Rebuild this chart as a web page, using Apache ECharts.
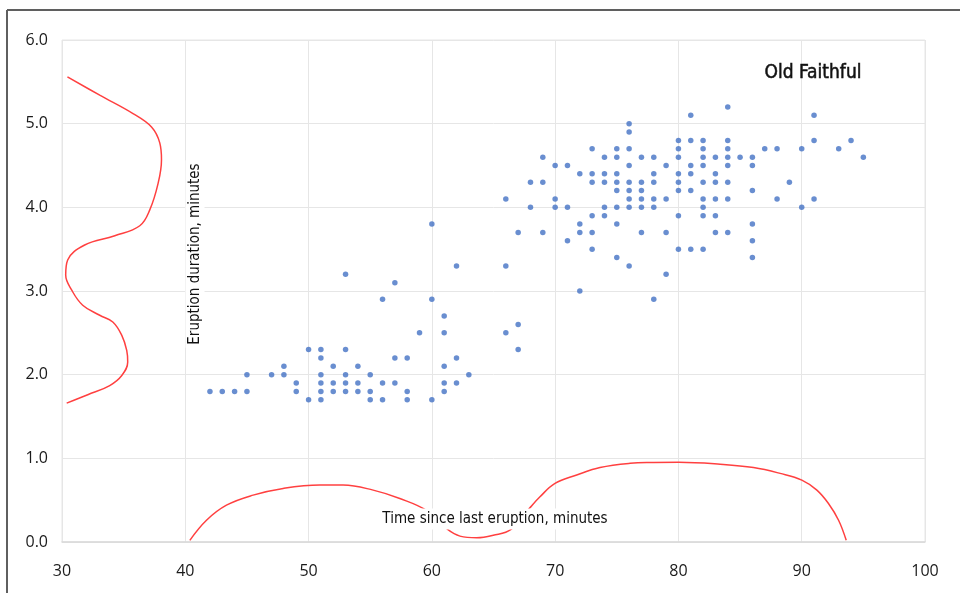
<!DOCTYPE html>
<html>
<head>
<meta charset="utf-8">
<title>Old Faithful</title>
<script src="https://cdn.jsdelivr.net/npm/echarts@6/dist/echarts.min.js"></script>
<style>
  html, body { margin: 0; padding: 0; background: #ffffff; }
  #chart { width: 960px; height: 593px; }
</style>
</head>
<body>
<div id="chart"></div>
<script>
// Eruption durations (minutes), one level per row of dots
const durationLevels = [
  1.7, 1.8, 1.9, 2.0, 2.1, 2.2, 2.3, 2.5, 2.6, 2.7, 2.9, 3.0, 3.1, 3.2, 3.3,
  3.4, 3.5, 3.6, 3.7, 3.8, 3.9, 4.0, 4.1, 4.2, 4.3, 4.4, 4.5, 4.6, 4.7, 4.8,
  4.9, 5.0, 5.1, 5.2
];
// Waiting times (minutes) observed at each duration level above
const waitingByLevel = [
  [50, 51, 55, 56, 58, 60],
  [42, 43, 44, 45, 49, 51, 52, 53, 54, 55, 58, 61],
  [49, 51, 52, 53, 54, 56, 57, 61, 62],
  [45, 47, 48, 51, 53, 55, 63],
  [48, 52, 54, 61],
  [51, 57, 58, 62],
  [50, 51, 53, 67],
  [59, 61, 66],
  [67],
  [61],
  [56, 60, 78],
  [72],
  [57],
  [53, 79],
  [62, 66, 76],
  [75, 86],
  [73, 80, 81, 82],
  [71, 86],
  [67, 69, 72, 73, 77, 79, 83, 84],
  [60, 72, 75, 86],
  [73, 74, 80, 82, 83],
  [68, 70, 71, 74, 75, 76, 77, 78, 82, 90],
  [66, 70, 76, 77, 78, 79, 82, 83, 84, 88, 91],
  [75, 76, 77, 80, 81, 86],
  [68, 69, 73, 74, 75, 76, 77, 78, 80, 82, 83, 84, 89],
  [72, 73, 74, 75, 78, 80, 81, 83],
  [70, 71, 76, 79, 81, 82, 84, 86],
  [69, 74, 75, 77, 78, 80, 82, 83, 84, 85, 86, 95],
  [73, 75, 76, 80, 82, 84, 87, 88, 90, 93],
  [80, 81, 82, 84, 91, 94],
  [76],
  [76],
  [81, 91],
  [84]
];

// Density of eruption duration, drawn sideways along the left edge
const durationDensityX = [30.44, 33.06, 35.76, 37.26, 37.93, 38.07, 37.8, 37.12, 36.31, 34.28, 31.84, 30.46, 30.30, 30.79, 31.68, 33.06, 34.12, 34.85, 35.25, 35.33, 34.85, 33.87, 32.09, 30.38];
const durationDensityY = [5.56, 5.34, 5.12, 4.96, 4.77, 4.57, 4.29, 3.97, 3.78, 3.66, 3.55, 3.37, 3.19, 3.01, 2.83, 2.71, 2.63, 2.47, 2.29, 2.15, 1.99, 1.87, 1.76, 1.66];

// Density of waiting time, drawn along the bottom edge
const waitingDensityX = [40.37, 41.72, 43.34, 45.5, 47.94, 50.92, 52.8, 55.24, 57.4, 59.66, 61.28, 62.28, 63.64, 64.98, 66.42, 67.9, 68.77, 69.99, 71.75, 73.64, 76.08, 77.97, 80.03, 83.38, 86.09, 88.25, 90.01, 91.23, 92.17, 92.99, 93.61];
const waitingDensityY = [0.02, 0.26, 0.44, 0.56, 0.64, 0.68, 0.68, 0.62, 0.52, 0.37, 0.15, 0.07, 0.05, 0.08, 0.15, 0.40, 0.54, 0.70, 0.80, 0.89, 0.94, 0.95, 0.953, 0.93, 0.89, 0.82, 0.74, 0.62, 0.46, 0.26, 0.02];

// Axis tick values
const xTicks = [30, 40, 50, 60, 70, 80, 90, 100];
const yTicks = [0, 1, 2, 3, 4, 5, 6];

const scatterData = [];
durationLevels.forEach((d, i) => {
  waitingByLevel[i].forEach(w => scatterData.push([w, d]));
});
const durationCurve = durationDensityX.map((x, i) => [x, durationDensityY[i]]);
const waitingCurve = waitingDensityX.map((x, i) => [x, waitingDensityY[i]]);

const tickFont = '"Open Sans", "Noto Sans", sans-serif';
const narrowFont = '"Liberation Sans Narrow", "DejaVu Sans Condensed", sans-serif';
const gridColor = '#e6e6e6';

const chart = echarts.init(document.getElementById('chart'), null, { renderer: 'canvas' });
chart.setOption({
  animation: false,
  backgroundColor: '#ffffff',
  grid: {
    left: 62, right: 35, top: 40, bottom: 51,
    show: true, borderColor: gridColor, borderWidth: 1
  },
  xAxis: {
    type: 'value',
    min: xTicks[0], max: xTicks[xTicks.length - 1], interval: 10,
    axisLine: { show: true, lineStyle: { color: '#d9d9d9', width: 1.5 } },
    axisTick: { show: false },
    splitLine: { show: true, lineStyle: { color: gridColor, width: 1 } },
    axisLabel: { color: '#1a1a1a', fontFamily: tickFont, fontSize: 16, margin: 21 }
  },
  yAxis: {
    type: 'value',
    min: yTicks[0], max: yTicks[yTicks.length - 1], interval: 1,
    axisLine: { show: false },
    axisTick: { show: false },
    splitLine: { show: true, lineStyle: { color: gridColor, width: 1 } },
    axisLabel: {
      color: '#1a1a1a', fontFamily: tickFont, fontSize: 16, margin: 14,
      formatter: v => v.toFixed(1)
    }
  },
  series: [
    {
      type: 'scatter',
      data: scatterData,
      symbol: 'circle',
      symbolSize: 5.5,
      itemStyle: { color: '#4472c4' },
      z: 3
    },
    {
      type: 'line',
      data: durationCurve,
      smooth: 0.4,
      showSymbol: false,
      lineStyle: { color: '#ff4040', width: 1.5 },
      z: 2
    },
    {
      type: 'line',
      data: waitingCurve,
      smooth: 0.4,
      showSymbol: false,
      lineStyle: { color: '#ff4040', width: 1.5 },
      z: 2
    }
  ],
  graphic: [
    {
      type: 'line', z: 100,
      shape: { x1: 7, y1: 10, x2: 960, y2: 10 },
      style: { stroke: '#5f5f5f', lineWidth: 2 }
    },
    {
      type: 'line', z: 100,
      shape: { x1: 7, y1: 10, x2: 7, y2: 593 },
      style: { stroke: '#5f5f5f', lineWidth: 2 }
    },
    {
      type: 'text', z: 100,
      x: 813, y: 73,
      style: {
        text: 'Old Faithful',
        font: '19px ' + narrowFont,
        fill: '#111111',
        stroke: '#111111', lineWidth: 0.5,
        textAlign: 'center', textVerticalAlign: 'middle'
      }
    },
    {
      type: 'text', z: 100,
      x: 495, y: 519,
      style: {
        text: 'Time since last eruption, minutes',
        font: '15px ' + narrowFont,
        fill: '#111111',
        textAlign: 'center', textVerticalAlign: 'middle',
        backgroundColor: '#ffffff', padding: [3, 3]
      }
    },
    {
      type: 'text', z: 100,
      x: 195, y: 254, rotation: Math.PI / 2,
      style: {
        text: 'Eruption duration, minutes',
        font: '15px ' + narrowFont,
        fill: '#111111',
        textAlign: 'center', textVerticalAlign: 'middle',
        backgroundColor: '#ffffff', padding: [2, 3]
      }
    }
  ]
});
</script>
</body>
</html>
